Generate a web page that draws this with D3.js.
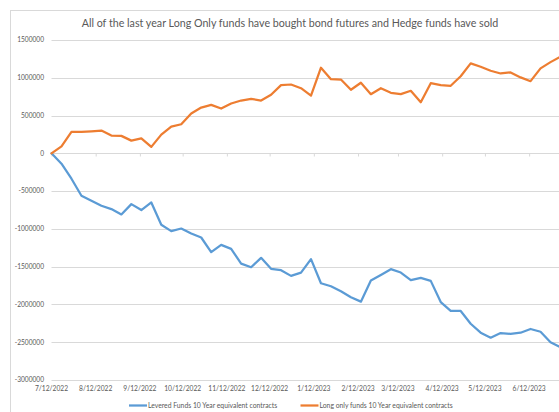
<!DOCTYPE html>
<html>
<head>
<meta charset="utf-8">
<script src="https://cdn.jsdelivr.net/npm/d3@7"></script>
<style>
  html, body { margin: 0; padding: 0; background: #fff; }
  svg { display: block; }
  text { font-family: Lato, "Open Sans", sans-serif; fill: #595959; }
</style>
</head>
<body>
<svg id="chart" width="559" height="412"></svg>
<script>
const titleText = "All of the last year Long Only funds have bought bond futures and Hedge funds have sold";

const dates = [
  "2022-07-12","2022-07-19","2022-07-26","2022-08-02","2022-08-09","2022-08-16","2022-08-23","2022-08-30",
  "2022-09-06","2022-09-13","2022-09-20","2022-09-27","2022-10-04","2022-10-11","2022-10-18","2022-10-25",
  "2022-11-01","2022-11-08","2022-11-15","2022-11-22","2022-11-29","2022-12-06","2022-12-13","2022-12-20",
  "2022-12-27","2023-01-03","2023-01-10","2023-01-17","2023-01-24","2023-01-31","2023-02-07","2023-02-14",
  "2023-02-21","2023-02-28","2023-03-07","2023-03-14","2023-03-21","2023-03-28","2023-04-04","2023-04-11",
  "2023-04-18","2023-04-25","2023-05-02","2023-05-09","2023-05-16","2023-05-23","2023-05-30","2023-06-06",
  "2023-06-13","2023-06-20","2023-06-27","2023-07-04"
];

const leveredFunds = [
  0, -137000, -336000, -561000, -627000, -694000, -738000, -809000,
  -672000, -751000, -650000, -946000, -1029000, -995000, -1061000, -1114000,
  -1308000, -1211000, -1264000, -1459000, -1507000, -1383000, -1529000, -1547000,
  -1622000, -1578000, -1401000, -1719000, -1759000, -1825000, -1905000, -1963000,
  -1684000, -1609000, -1533000, -1578000, -1679000, -1649000, -1688000, -1969000,
  -2086000, -2086000, -2255000, -2374000, -2440000, -2378000, -2389000, -2374000,
  -2325000, -2361000, -2500000, -2565000
];

const longOnly = [
  0, 93000, 284000, 284000, 292000, 301000, 235000, 231000,
  168000, 199000, 85000, 248000, 354000, 385000, 527000, 606000,
  642000, 593000, 660000, 699000, 721000, 699000, 775000, 902000,
  911000, 862000, 765000, 1133000, 981000, 977000, 841000, 934000,
  783000, 862000, 801000, 783000, 828000, 676000, 928000, 902000,
  894000, 1021000, 1190000, 1146000, 1093000, 1057000, 1071000, 1005000,
  955000, 1124000, 1207000, 1280000
];

const yTicks = [1500000, 1000000, 500000, 0, -500000, -1000000, -1500000, -2000000, -2500000, -3000000];
const xTickDates = ["2022-07-12","2022-08-12","2022-09-12","2022-10-12","2022-11-12","2022-12-12",
                    "2023-01-12","2023-02-12","2023-03-12","2023-04-12","2023-05-12","2023-06-12"];

const seriesNames = ["Levered Funds 10 Year equivalent contracts", "Long only funds 10 Year equivalent contracts"];
const seriesColors = ["#5b9bd5", "#ed7d31"];

const parse = d3.utcParse("%Y-%m-%d");
const fmt = d => (d.getUTCMonth() + 1) + "/" + d.getUTCDate() + "/" + d.getUTCFullYear();

const svg = d3.select("#chart");

// chart area border
svg.append("rect")
  .attr("x", 10.5).attr("y", 10.5)
  .attr("width", 620).attr("height", 460)
  .attr("fill", "#fff").attr("stroke", "#d9d9d9").attr("stroke-width", 1);

const x = d3.scaleUtc()
  .domain([parse(dates[0]), parse(dates[dates.length - 1])])
  .range([51.5, 560.5]);

const y = d3.scaleLinear()
  .domain([-3000000, 1500000])
  .range([380, 40]);

// gridlines
svg.append("g")
  .selectAll("line")
  .data(yTicks)
  .join("line")
  .attr("x1", 51.5).attr("x2", 600)
  .attr("y1", d => Math.round(y(d)) + 0.5)
  .attr("y2", d => Math.round(y(d)) + 0.5)
  .attr("stroke", "#d9d9d9").attr("stroke-width", 1);

// y labels
svg.append("g")
  .selectAll("text")
  .data(yTicks)
  .join("text")
  .attr("x", 44)
  .attr("y", d => y(d))
  .attr("dy", "0.35em")
  .attr("text-anchor", "end")
  .attr("font-size", 6.6)
  .text(d => d3.format("d")(d).replace("−", "-"));

// x axis at zero with tick marks
const xAxis = d3.axisBottom(x)
  .tickValues(xTickDates.map(parse))
  .tickSize(3)
  .tickFormat("");
const gx = svg.append("g")
  .attr("transform", `translate(0,${Math.round(y(0)) + 0.5})`)
  .call(xAxis);
gx.select(".domain").remove();
gx.selectAll(".tick line").attr("stroke", "#d9d9d9");

// x labels at bottom
svg.append("g")
  .selectAll("text")
  .data(xTickDates.map(parse))
  .join("text")
  .attr("x", d => x(d))
  .attr("y", 389)
  .attr("dy", "0.35em")
  .attr("text-anchor", "middle")
  .attr("font-size", 6.7)
  .text(fmt);

// lines
const seriesData = [leveredFunds, longOnly];
const line = d3.line()
  .x((d, i) => x(parse(dates[i])))
  .y(d => y(d));

svg.append("g")
  .selectAll("path")
  .data(seriesData)
  .join("path")
  .attr("d", d => line(d))
  .attr("fill", "none")
  .attr("stroke", (d, i) => seriesColors[i])
  .attr("stroke-width", 2.25)
  .attr("stroke-linejoin", "round")
  .attr("stroke-linecap", "round");

// title
svg.append("text")
  .attr("x", 290)
  .attr("y", 23.5)
  .attr("dy", "0.35em")
  .attr("text-anchor", "middle")
  .attr("font-size", 10.7)
  .text(titleText);

// legend
const legendX = [129, 300.5];
const lg = svg.append("g")
  .selectAll("g")
  .data(seriesNames)
  .join("g")
  .attr("transform", (d, i) => `translate(${legendX[i]},405.5)`);
lg.append("line")
  .attr("x1", 0).attr("x2", 18)
  .attr("stroke", (d, i) => seriesColors[i])
  .attr("stroke-width", 2.25);
lg.append("text")
  .attr("x", 19)
  .attr("dy", "0.35em")
  .attr("font-size", 6.8)
  .text(d => d);
</script>
</body>
</html>
